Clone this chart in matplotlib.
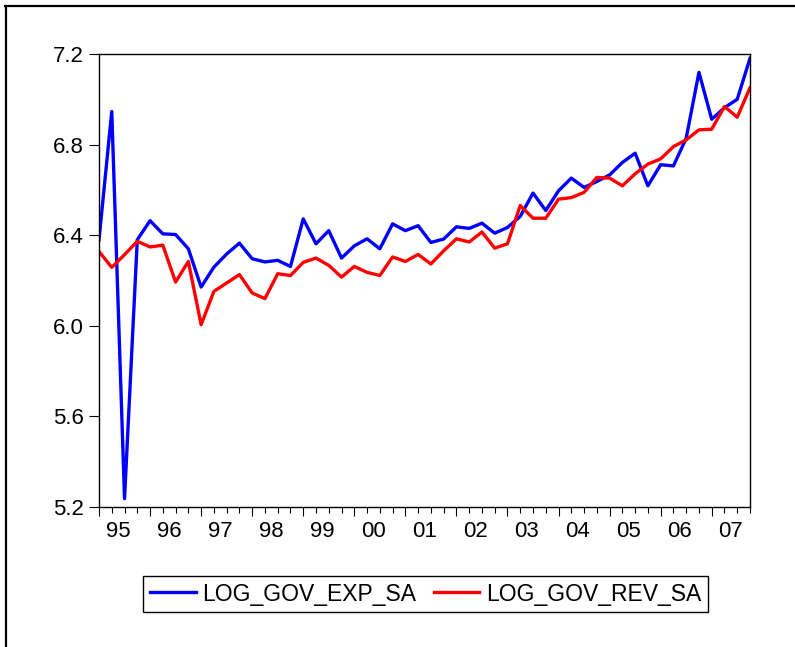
import numpy as np
import matplotlib
matplotlib.use("Agg")
import matplotlib.pyplot as plt
from matplotlib.lines import Line2D

plt.rcParams['font.family'] = ['Liberation Sans', 'DejaVu Sans']

year_labels = ["95", "96", "97", "98", "99", "00", "01", "02", "03", "04", "05", "06", "07"]
series_names = ["LOG_GOV_EXP_SA", "LOG_GOV_REV_SA"]

log_gov_exp_sa = [6.380, 6.946, 5.237, 6.380, 6.464, 6.406, 6.403, 6.340, 6.171, 6.259,
                  6.317, 6.365, 6.296, 6.282, 6.289, 6.262, 6.472, 6.362, 6.420, 6.299,
                  6.353, 6.384, 6.340, 6.450, 6.420, 6.442, 6.368, 6.383, 6.437, 6.430,
                  6.453, 6.409, 6.434, 6.483, 6.586, 6.509, 6.596, 6.652, 6.611, 6.637,
                  6.666, 6.721, 6.762, 6.618, 6.711, 6.706, 6.828, 7.119, 6.912, 6.963,
                  7.000, 7.181]
log_gov_rev_sa = [6.328, 6.258, 6.314, 6.373, 6.348, 6.356, 6.193, 6.284, 6.005, 6.152,
                  6.189, 6.226, 6.145, 6.120, 6.230, 6.222, 6.280, 6.299, 6.267, 6.215,
                  6.262, 6.236, 6.222, 6.304, 6.284, 6.315, 6.273, 6.331, 6.384, 6.370,
                  6.414, 6.343, 6.362, 6.531, 6.475, 6.475, 6.559, 6.566, 6.589, 6.655,
                  6.652, 6.618, 6.671, 6.714, 6.737, 6.791, 6.821, 6.865, 6.868, 6.968,
                  6.921, 7.051]
y_ticks = [5.2, 5.6, 6.0, 6.4, 6.8, 7.2]

W, H = 795, 647
fig = plt.figure(figsize=(W / 100, H / 100), dpi=100)
ax = fig.add_axes([99 / W, 1 - 507 / H, (750 - 99) / W, (507 - 54) / H])

q = np.arange(len(log_gov_exp_sa))
ax.plot(q, log_gov_exp_sa, color="#0000FF", lw=2.4, label=series_names[0])
ax.plot(q, log_gov_rev_sa, color="#FF0000", lw=2.4, label=series_names[1])

ax.set_xlim(0, len(q) - 1)
ax.set_ylim(5.2, 7.2)
ax.set_yticks(y_ticks)
ax.set_yticklabels([f"{v:.1f}" for v in y_ticks])
ax.tick_params(axis='y', direction='out', length=7, width=0.8, pad=4, labelsize=16)

year_starts = np.arange(0, len(q), 4)
ax.set_xticks(year_starts)
ax.set_xticklabels([""] * len(year_starts))
ax.set_xticks(q, minor=True)
ax.tick_params(axis='x', which='major', direction='out', length=6.5, width=0.8)
ax.tick_params(axis='x', which='minor', direction='out', length=4.3, width=0.8)

sec = ax.secondary_xaxis('bottom')
sec.set_xticks(year_starts + 1.5)
sec.set_xticklabels(year_labels)
sec.tick_params(axis='x', length=0, pad=10, labelsize=16)
sec.spines['bottom'].set_visible(False)

for s in ax.spines.values():
    s.set_linewidth(1.0)
    s.set_color("black")

leg = ax.legend(loc='center', bbox_to_anchor=(425.6 / W, 1 - 594 / H),
                bbox_transform=fig.transFigure, ncol=2, fontsize=16.5,
                frameon=True, fancybox=False, edgecolor="black", framealpha=1,
                handlelength=2.0, handletextpad=0.3, columnspacing=0.75,
                borderpad=0.3, borderaxespad=0)
leg.get_frame().set_linewidth(1.0)

fig.add_artist(Line2D([5 / W, 1], [1 - 5.5 / H, 1 - 5.5 / H], color="black", lw=1.6,
                      transform=fig.transFigure))
fig.add_artist(Line2D([5.5 / W, 5.5 / W], [0, 1 - 5.5 / H], color="black", lw=1.6,
                      transform=fig.transFigure))

fig.savefig("out.png", dpi=100)
